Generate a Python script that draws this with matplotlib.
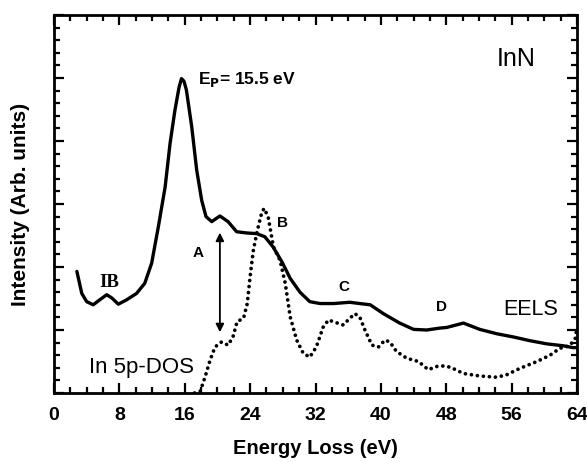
import matplotlib
matplotlib.use("Agg")
import matplotlib.pyplot as plt
from matplotlib.ticker import MultipleLocator

# ---- data ----
eels_E = [2.8, 3.4, 4.0, 4.8, 5.6, 6.45, 7.06, 7.87, 8.9, 10.1, 11.1, 11.95, 12.77,
          13.6, 14.2, 14.8, 15.3, 15.6, 15.9, 16.2, 16.85, 17.46, 18.07, 18.6, 19.3, 20.3, 21.3,
          22.35, 23.6, 24.8, 25.8, 26.8, 27.9, 28.9, 30.1, 31.3, 32.55, 34.2, 36.2,
          37.4, 38.7, 40.3, 42.3, 44.0, 45.6, 47.2, 48.05, 50.1, 52.1, 54.2, 56.2,
          58.25, 60.3, 62.3, 63.5, 64.0]
eels_I = [1.93, 1.58, 1.45, 1.40, 1.48, 1.56, 1.51, 1.41, 1.48, 1.58, 1.74, 2.06, 2.64,
          3.27, 3.96, 4.49, 4.85, 4.99, 4.95, 4.81, 4.23, 3.54, 3.06, 2.80, 2.72, 2.81, 2.72,
          2.56, 2.54, 2.53, 2.48, 2.32, 2.08, 1.82, 1.60, 1.45, 1.42, 1.42, 1.44,
          1.42, 1.40, 1.26, 1.11, 1.01, 1.00, 1.03, 1.04, 1.11, 1.01, 0.94, 0.89,
          0.83, 0.78, 0.75, 0.72, 0.72]

dos_E = [17.2, 17.9, 18.5, 19.1, 19.7, 20.5, 21.3, 21.9, 22.4, 23.2, 23.65, 24.0,
         24.4, 24.9, 25.4, 25.7, 26.2, 26.85, 27.65, 28.3, 28.9, 29.7, 30.5, 31.3,
         32.1, 32.95, 33.6, 34.2, 35.4, 36.0, 36.8, 37.4, 38.05, 38.9, 39.7, 40.5,
         41.1, 41.9, 43.2, 44.6, 45.8, 46.8, 47.5, 48.5, 50.1, 52.1, 54.2, 55.4,
         57.0, 59.1, 60.7, 61.9, 63.1, 63.8, 64.0]
dos_I = [0.0, 0.03, 0.26, 0.52, 0.73, 0.81, 0.76, 0.89, 1.13, 1.19, 1.42, 1.85,
         2.27, 2.59, 2.85, 2.93, 2.80, 2.32, 2.11, 1.74, 1.21, 0.84, 0.63, 0.57,
         0.73, 1.05, 1.16, 1.13, 1.08, 1.16, 1.26, 1.21, 1.00, 0.76, 0.73, 0.84,
         0.81, 0.66, 0.55, 0.50, 0.37, 0.42, 0.43, 0.41, 0.31, 0.27, 0.25, 0.29,
         0.39, 0.50, 0.60, 0.71, 0.75, 0.87, 1.05]

x_ticks = [0, 8, 16, 24, 32, 40, 48, 56, 64]
x_tick_labels = ["0", "8", "16", "24", "32", "40", "48", "56", "64"]

plt.rcParams['font.family'] = ['Liberation Sans', 'DejaVu Sans']

fig = plt.figure(figsize=(5.87, 4.62), dpi=100)
ax = fig.add_axes([54/587, 69/462, 523/587, 378/462])

ax.plot(eels_E, eels_I, color='black', lw=2.4, solid_capstyle='round', solid_joinstyle='round')
ax.plot(dos_E, dos_I, color='black', lw=2.7, linestyle=(0, (0.01, 1.6)), dash_capstyle='round')

ax.set_xlim(0, 64)
ax.set_ylim(0, 6)
ax.set_xticks(x_ticks)
ax.set_xticklabels(x_tick_labels, fontsize=14, fontweight='bold')
ax.xaxis.set_minor_locator(MultipleLocator(2))
ax.yaxis.set_major_locator(MultipleLocator(1))
ax.yaxis.set_minor_locator(MultipleLocator(0.2))
ax.set_yticklabels([])
ax.tick_params(which='both', direction='in', top=True, right=True, width=1.6, color='black')
ax.tick_params(which='major', length=7, pad=10)
ax.tick_params(which='minor', length=4)
for s in ax.spines.values():
    s.set_linewidth(2.0)

ax.set_xlabel("Energy Loss (eV)", fontsize=14.5, fontweight='bold', labelpad=11)
ax.set_ylabel("Intensity (Arb. units)", fontsize=15, fontweight='bold', labelpad=7)

# annotations
ax.text(17.6, 4.98, r"E$_{\mathbf{P}}$= 15.5 eV", fontsize=12.5, fontweight='bold', va='center', ha='left')
ax.text(56.5, 5.3, "InN", fontsize=18, va='center', ha='center')
ax.text(6.8, 1.75, "IB", fontsize=13.5, fontweight='bold', family='Liberation Serif', va='center', ha='center')
ax.text(17.6, 2.22, "A", fontsize=11, fontweight='bold', va='center', ha='center')
ax.text(28.0, 2.70, "B", fontsize=11, fontweight='bold', va='center', ha='center')
ax.text(35.5, 1.68, "C", fontsize=11, fontweight='bold', va='center', ha='center')
ax.text(47.4, 1.37, "D", fontsize=11, fontweight='bold', va='center', ha='center')
ax.text(58.3, 1.32, "EELS", fontsize=15.5, va='center', ha='center')
ax.text(10.7, 0.40, "In 5p-DOS", fontsize=16, va='center', ha='center')
ax.annotate("", xy=(20.3, 0.92), xytext=(20.3, 2.59),
            arrowprops=dict(arrowstyle='<|-|>', color='black', lw=1.3, mutation_scale=12))

fig.savefig("out.png", dpi=100)
